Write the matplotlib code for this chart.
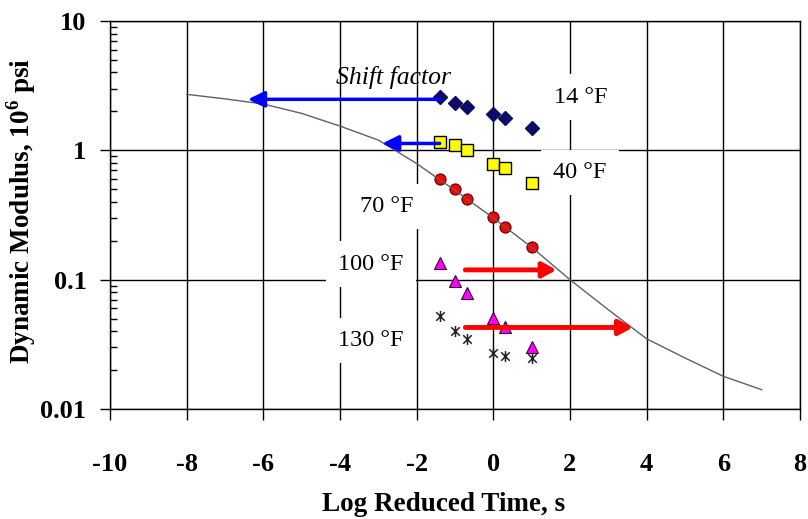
import matplotlib
matplotlib.use("Agg")
import matplotlib.pyplot as plt
from matplotlib.path import Path
from matplotlib.ticker import FixedLocator, LogLocator, NullFormatter, NullLocator

plt.rcParams["font.family"] = ["Liberation Serif", "DejaVu Serif"]
plt.rcParams["axes.unicode_minus"] = False
plt.rcParams["mathtext.fontset"] = "custom"
plt.rcParams["mathtext.rm"] = "Liberation Serif:bold"
plt.rcParams["mathtext.bf"] = "Liberation Serif:bold"

# loading times (log s) used at every test temperature
log_time = [-1.4, -1.0, -0.7, 0.0, 0.3, 1.0]

# measured dynamic modulus, 10^6 psi
e_14 = [2.59, 2.31, 2.15, 1.92, 1.78, 1.49]
e_40 = [1.16, 1.09, 1.00, 0.79, 0.73, 0.556]
e_70 = [0.60, 0.50, 0.42, 0.304, 0.257, 0.178]
e_100 = [0.1355, 0.098, 0.0795, 0.0504, 0.043, 0.030]
e_130 = [0.052, 0.040, 0.0347, 0.027, 0.0255, 0.025]

# master curve at the 70 F reference temperature
master_x = [-8, -7, -6, -5, -4, -3, -2, -1, 0, 1, 2, 3, 4, 5, 6, 7]
master_e = [2.71, 2.50, 2.28, 1.93, 1.54, 1.20, 0.79, 0.49, 0.30, 0.178,
            0.100, 0.0585, 0.0349, 0.0248, 0.0179, 0.0141]

# shift arrows: (start log t, end log t, modulus level)
shift_cold = [(-1.4, -6.4, 2.48), (-1.4, -2.9, 1.13)]
shift_hot = [(-0.73, 1.65, 0.119), (-0.73, 3.64, 0.0427)]

temp_labels = ["14 °F", "40 °F", "70 °F", "100 °F", "130 °F"]
label_x = [2.28, 2.26, -2.78, -3.2, -3.2]
label_y = [2.58, 0.674, 0.367, 0.132, 0.0337]

x_ticks = [-10, -8, -6, -4, -2, 0, 2, 4, 6, 8]
y_ticks = [0.01, 0.1, 1, 10]
y_ticklabels = ["0.01", "0.1", "1", "10"]

# excel-style asterisk: an X crossed by a vertical bar
star = Path(
    [(-1, -1), (1, 1), (-1, 1), (1, -1), (0, -1.3), (0, 1.3)],
    [Path.MOVETO, Path.LINETO, Path.MOVETO, Path.LINETO, Path.MOVETO, Path.LINETO],
)

fig = plt.figure(figsize=(8.08, 5.19), dpi=100)
ax = fig.add_axes([110 / 808, 1 - 409 / 519, 690 / 808, 388 / 519])
ax.set_yscale("log")
ax.set_xlim(-10, 8)
ax.set_ylim(0.01, 10)

ax.set_axisbelow(True)
ax.grid(True, which="major", color="black", lw=1.0)
for s in ax.spines.values():
    s.set_linewidth(1.0)

ax.xaxis.set_major_locator(FixedLocator(x_ticks))
ax.xaxis.set_minor_locator(NullLocator())
ax.set_yticks(y_ticks)
ax.set_yticklabels(y_ticklabels)
ax.yaxis.set_minor_locator(LogLocator(base=10, subs=range(2, 10)))
ax.yaxis.set_minor_formatter(NullFormatter())
ax.tick_params(axis="x", which="major", direction="out", length=8, width=1,
               pad=24, labelsize=19)
ax.tick_params(axis="y", which="major", direction="out", length=7, width=1,
               pad=10, labelsize=19)
ax.tick_params(axis="y", which="minor", direction="in", length=5, width=1)
for lab in ax.get_xticklabels() + ax.get_yticklabels():
    lab.set_fontweight("bold")

ax.plot(log_time, e_14, ls="none", marker="D", ms=7, mfc="#0c0c66",
        mec="#0c0c66", zorder=4)
ax.plot(log_time, e_40, ls="none", marker="s", ms=8, mfc="#ffff00",
        mec="black", mew=1.0, zorder=4)
ax.plot(log_time, e_70, ls="none", marker="o", ms=8, mfc="#ff0000",
        mec="#550000", mew=0.8, zorder=4)
ax.plot(log_time, e_100, ls="none", marker="^", ms=8.5, mfc="#ff00ff",
        mec="#330033", mew=0.8, zorder=4)
ax.plot(log_time, e_130, ls="none", marker=star, ms=8, mfc="none",
        mec="#222222", mew=1.1, zorder=4)

ax.plot(master_x, master_e, color="#606060", lw=1.0, zorder=5)

for x0, x1, y in shift_cold:
    ax.annotate("", xy=(x1, y), xytext=(x0, y), zorder=6,
                arrowprops=dict(arrowstyle="-|>,head_length=0.65,head_width=0.32",
                                color="#0000ff", lw=2.5, mutation_scale=15,
                                shrinkA=0, shrinkB=0))
for x0, x1, y in shift_hot:
    ax.annotate("", xy=(x1, y), xytext=(x0, y), zorder=6,
                arrowprops=dict(arrowstyle="-|>,head_length=0.55,head_width=0.3",
                                color="#ff0000", lw=3.5, mutation_scale=15,
                                shrinkA=0, shrinkB=0))

for txt, tx, ty in zip(temp_labels, label_x, label_y):
    ax.text(tx, ty, txt, fontsize=17.5, ha="center", va="center", zorder=2.5,
            bbox=dict(boxstyle="square,pad=0.5", fc="white", ec="none"))

ax.text(-2.6, 3.68, "Shift factor", fontsize=18.5, style="italic",
        ha="center", va="center", zorder=2.5)

ax.set_xlabel("Log Reduced Time, s", fontsize=19.5, fontweight="bold")
ax.xaxis.set_label_coords(0.484, -0.215)
ax.set_ylabel(r"Dynamic Modulus, 10$^{\mathbf{6}}$ psi", fontsize=19.5,
              fontweight="bold")
ax.yaxis.set_label_coords(-0.105, 0.51)

fig.savefig("out.png", dpi=100)
plt.close(fig)
